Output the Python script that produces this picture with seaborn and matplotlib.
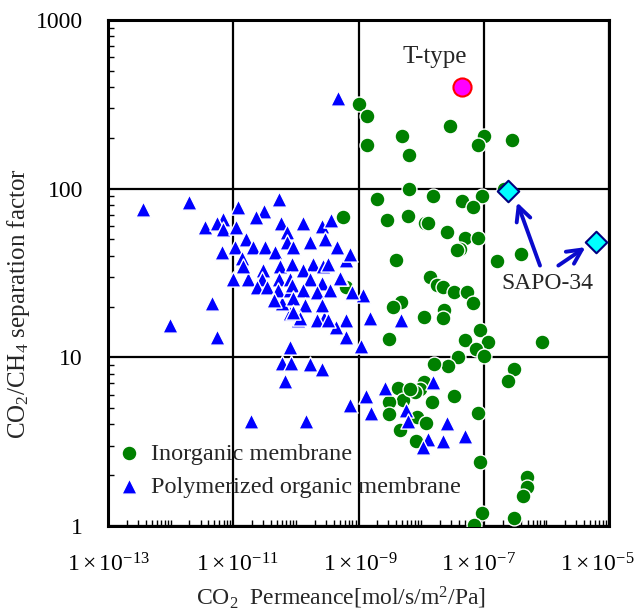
import numpy as np
import pandas as pd
import matplotlib
matplotlib.use("Agg")
import matplotlib.pyplot as plt
from matplotlib.ticker import FixedLocator, LogLocator, NullFormatter, FuncFormatter
from matplotlib.transforms import ScaledTranslation
import seaborn as sns

# CO2 permeance [mol/s/m2/Pa] and CO2/CH4 separation factor
inorg_perm = [1.02e-9, 1.38e-9, 1.38e-9, 5.0e-9, 6.5e-9, 2.9e-8, 1.02e-7, 8.1e-8, 2.8e-7, 6.5e-9,
              2.0e-9, 1.55e-8, 4.5e-8, 9.3e-8, 6.8e-8, 2.1e-7, 5.6e-10, 2.9e-9, 6.2e-9, 1.15e-8,
              1.3e-8, 2.6e-8, 5.0e-8, 8.1e-8, 4.1e-8, 3.8e-8, 1.6e-7, 4.0e-7, 4.0e-9, 1.4e-8,
              1.8e-8, 2.2e-8, 3.4e-8, 5.4e-8, 6.8e-8, 4.8e-9, 3.5e-9, 1.1e-8, 2.3e-8, 2.2e-8,
              3.1e-9, 8.7e-8, 5.0e-8, 1.17e-7, 7.6e-8, 8.5e-7, 1.02e-7, 3.9e-8, 2.7e-8, 1.6e-8,
              3.0e-7, 2.45e-7, 4.2e-9, 1.1e-8, 9.5e-9, 7.9e-9, 3.4e-8, 5.1e-9, 3.1e-9, 1.5e-8,
              3.1e-9, 8.1e-8, 8.7e-9, 1.2e-8, 4.6e-9, 8.3e-9, 8.7e-8, 4.9e-7, 4.9e-7, 4.3e-7,
              9.3e-8, 3.0e-7, 7.1e-8, 6.3e-10, 6.6e-9]
inorg_sep = [316, 269, 182, 204, 158, 234, 204, 182, 195, 100,
             87, 91, 85, 91, 78, 100, 68, 65, 69, 63,
             63, 55, 51, 51, 44, 43, 37, 41, 38, 30,
             27, 26, 24.5, 24.5, 21, 21.4, 20, 17.4, 19, 17,
             12.9, 14.5, 12.6, 12.3, 11.2, 12.3, 10.2, 10.0, 8.9, 9.1,
             8.5, 7.2, 6.6, 7.1, 6.5, 6.2, 5.9, 5.6, 5.4, 5.4,
             4.6, 4.7, 4.4, 4.1, 3.7, 3.2, 2.4, 1.95, 1.7, 1.5,
             1.2, 1.12, 1.02, 26, 6.5]

poly_perm = [4.7e-10, 3.6e-13, 1.95e-12, 9.8e-13, 4.6e-12, 5.5e-12, 1.0e-11, 1.7e-11, 8.1e-11, 6.0e-11,
             8.3e-11, 1.7e-10, 2.6e-10, 6.8e-11, 1.9e-11, 1.45e-10, 7.4e-10, 1.3e-9, 1.1e-9, 6.3e-10,
             6.3e-10, 4.3e-10, 2.1e-10, 2.8e-10, 1.1e-10, 8.1e-11, 6.0e-11, 1.17e-9, 7.9e-10, 5.2e-10,
             6.3e-10, 6.5e-12, 1.6e-9, 2.6e-9, 5.8e-9, 6.2e-9, 1.55e-8, 2.6e-8, 1.3e-8, 2.2e-8,
             1.07e-8, 5.0e-8, 7.4e-10, 1.55e-9, 4.8e-9, 1.2e-11, 3.1e-11, 5.4e-11, 2.3e-11, 6.9e-12,
             3.5e-12, 5.5e-12, 6.9e-12, 1.1e-11, 5.8e-11, 7.2e-11, 1.6e-11, 1.07e-11, 2.1e-11, 3.2e-11,
             4.7e-11, 7.2e-11, 1.4e-11, 1.45e-11, 3.0e-11, 5.6e-11, 8.7e-11, 2.9e-11, 5.4e-11, 8.1e-11,
             2.4e-11, 3.5e-11, 5.2e-11, 8.1e-11, 1.3e-10, 2.6e-10, 3.6e-10, 1.7e-10, 2.95e-10, 4.6e-10,
             9.1e-11, 1.9e-10, 2.7e-10, 5.1e-10, 1.3e-10, 8.7e-11, 1.7e-10, 2.6e-10, 3.5e-10, 1.3e-10,
             2.2e-10, 1.4e-10, 2.6e-10, 4.4e-11, 9.1e-11, 1.17e-10, 2.2e-10, 3.2e-10, 9.1e-11, 3.2e-10]
poly_sep = [347, 76, 83, 15.5, 21, 13.2, 29, 29, 11.5, 9.3,
            9.3, 9.1, 8.5, 7.2, 4.2, 4.2, 5.2, 5.9, 11.7, 13.2,
            16.6, 15.1, 16.6, 17, 16.6, 18.2, 21, 23.4, 24.5, 29.5,
            38, 42, 4.7, 6.6, 4.9, 4.2, 7.1, 4.1, 3.3, 3.2,
            2.95, 3.4, 41, 17, 16.6, 78, 74, 87, 68, 66,
            59, 63, 58, 59, 63, 55, 50, 45, 45, 45,
            42, 48, 39, 35, 33, 35, 36, 29, 29, 29,
            26, 26, 25, 25, 63, 60, 65, 48, 50, 45,
            45, 36, 35, 29.5, 33, 27, 29, 27.5, 25, 25,
            24.5, 20.4, 20.4, 21.9, 22.4, 17, 16.6, 16.6, 18.6, 36]

ttype_perm, ttype_sep = [4.5e-8], [400]
sapo_perm, sapo_sep = [2.4e-7, 6.3e-6], [97, 48]

x_major = [1e-13, 1e-11, 1e-9, 1e-7, 1e-5]
y_major = [1, 10, 100, 1000]

sns.set_theme(style="white")
plt.rcParams["font.family"] = ["Liberation Serif", "DejaVu Serif"]
plt.rcParams["mathtext.fontset"] = "custom"
plt.rcParams["mathtext.rm"] = "Liberation Serif"
plt.rcParams["mathtext.it"] = "Liberation Serif:italic"
plt.rcParams["mathtext.bf"] = "Liberation Serif:bold"

inorg = pd.DataFrame({"perm": inorg_perm, "sep": inorg_sep})
poly = pd.DataFrame({"perm": poly_perm, "sep": poly_sep})

fig = plt.figure(figsize=(6.38, 6.13), dpi=100)
ax = fig.add_axes([0.1693, 0.1419, 0.7853, 0.8255])
ax.set_xscale("log")
ax.set_yscale("log")

sns.scatterplot(data=inorg, x="perm", y="sep", ax=ax, marker="o", s=115,
                color="#008000", edgecolor="white", linewidth=1.0,
                label="Inorganic membrane", zorder=3)
sns.scatterplot(data=poly, x="perm", y="sep", ax=ax, marker="^", s=120,
                color="#0000FF", edgecolor="white", linewidth=1.0,
                label="Polymerized organic membrane", zorder=4)
sns.scatterplot(x=ttype_perm, y=ttype_sep, ax=ax, marker="o", s=170,
                color="#FF00FF", edgecolor="#FF0000", linewidth=1.5, legend=False, zorder=5)
sns.scatterplot(x=sapo_perm, y=sapo_sep, ax=ax, marker="D", s=120,
                color="#00FFFF", edgecolor="#000080", linewidth=1.5, legend=False, zorder=5)

ax.set_xlim(1e-13, 1e-5)
ax.set_ylim(1, 1000)

ax.text(1.65e-8, 600, "T-type", fontsize=18, ha="center", va="center")
ax.text(1.02e-6, 27.5, "SAPO-34", fontsize=17, ha="center", va="center")
arrow = dict(arrowstyle="->", color="#0A0ACC", lw=2.8, mutation_scale=26, shrinkA=0, shrinkB=0)
ax.annotate("", xy=(3.4e-7, 83), xytext=(7.9e-7, 35), arrowprops=arrow, zorder=6)
ax.annotate("", xy=(4.2e-6, 45), xytext=(1.55e-6, 35), arrowprops=arrow, zorder=6)

# ticks and grid
ax.xaxis.set_major_locator(FixedLocator(x_major))
ax.xaxis.set_minor_locator(LogLocator(base=10, subs=np.arange(1, 10), numticks=40))
ax.xaxis.set_minor_formatter(NullFormatter())
ax.xaxis.set_major_formatter(FuncFormatter(
    lambda v, p: r"$1\times10^{%d}$" % int(round(np.log10(v)))))
ax.yaxis.set_major_locator(FixedLocator(y_major))
ax.yaxis.set_minor_locator(LogLocator(base=10, subs=np.arange(2, 10), numticks=20))
ax.yaxis.set_minor_formatter(NullFormatter())
ax.yaxis.set_major_formatter(FuncFormatter(lambda v, p: "%d" % v))

ax.tick_params(axis="both", which="both", direction="in", bottom=True, left=True,
               top=False, right=False, colors="black")
ax.tick_params(axis="both", which="major", length=5, width=1.2, labelsize=17)
ax.tick_params(axis="both", which="minor", length=4, width=1.0)
ax.tick_params(axis="x", which="major", pad=20)
ax.tick_params(axis="y", which="major", pad=18)

# nudge the right-hand permeance labels inwards so they stay on the canvas
for tick, dx in zip(ax.xaxis.get_major_ticks(), [0, 4, 2, -5, -12]):
    lab = tick.label1
    lab.set_transform(lab.get_transform() + ScaledTranslation(dx / 100, 0, fig.dpi_scale_trans))

ax.grid(True, which="major", color="black", linewidth=1.6)
ax.set_axisbelow(True)
for sp in ax.spines.values():
    sp.set_color("black")
    sp.set_linewidth(2.2)

ax.set_xlabel(r"CO$_2$  Permeance[mol/s/m$^2$/Pa]", fontsize=17)
ax.set_ylabel(r"CO$_2$/CH$_4$ separation factor", fontsize=18)
ax.xaxis.set_label_coords(0.465, -0.117)
ax.yaxis.set_label_coords(-0.152, 0.44)

ax.legend(loc="upper left", bbox_to_anchor=(-0.012, 0.184), frameon=False, fontsize=17.5,
          handletextpad=0.2, labelspacing=0.45, borderaxespad=0, handlelength=1.4)

fig.savefig("out.png", dpi=100)
